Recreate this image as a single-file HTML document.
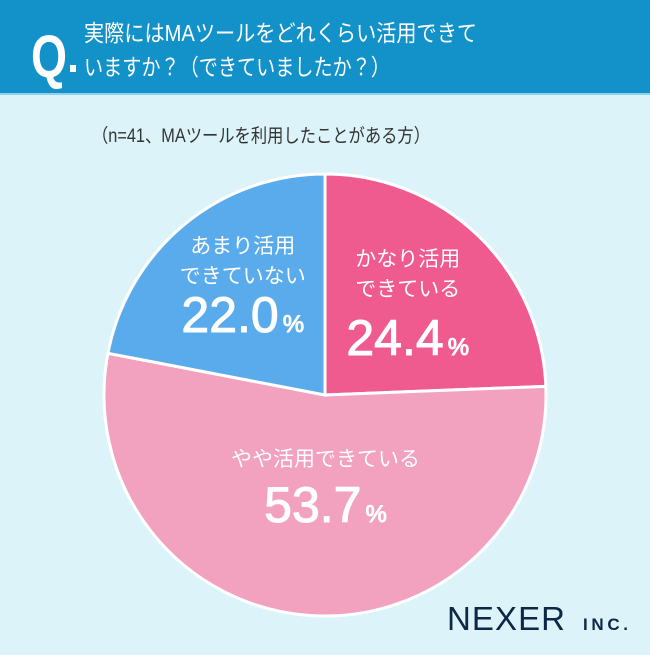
<!DOCTYPE html>
<html><head><meta charset="utf-8">
<style>
html,body{margin:0;padding:0;}
body{width:650px;height:650px;overflow:hidden;background:#dcf4f9;font-family:"Liberation Sans","Noto Sans CJK JP",sans-serif;}
</style></head>
<body>
<svg width="650" height="650" xmlns="http://www.w3.org/2000/svg">
<rect x="0" y="0" width="650" height="650" fill="#dcf4f9"/>
<rect x="0" y="0" width="650" height="93" fill="#1391c9"/>
<rect x="0" y="93" width="650" height="2" fill="#8fd0ea"/>
<text x="31" y="77" font-size="60" font-weight="bold" fill="#fff" textLength="36" lengthAdjust="spacingAndGlyphs" font-family="Liberation Sans, sans-serif">Q</text>
<rect x="70" y="65" width="6" height="7" fill="#fff"/>
<text x="84" y="41" font-size="23" fill="#fff" textLength="393" lengthAdjust="spacingAndGlyphs">実際にはMAツールをどれくらい活用できて</text>
<text x="84" y="75" font-size="23" fill="#fff" textLength="306" lengthAdjust="spacingAndGlyphs">いますか？（できていましたか？）</text>
<text x="92" y="142" font-size="19" fill="#333" textLength="338" lengthAdjust="spacingAndGlyphs">（n=41、MAツールを利用したことがある方）</text>
<g id="pie"></g>
<g id="labels"></g>
<text x="447" y="630" font-size="33" fill="#0d2747" textLength="118" lengthAdjust="spacing" font-family="Liberation Sans, sans-serif">NEXER</text>
<text x="583" y="630" font-size="17" font-weight="bold" fill="#0d2747" textLength="45" lengthAdjust="spacing" font-family="Liberation Sans, sans-serif">INC.</text>
</svg>
<script>
const categories = ["かなり活用できている","やや活用できている","あまり活用できていない"];
const values = [24.4, 53.7, 22.0];
const valueLabels = ["24.4","53.7","22.0"];
const colors = ["#ef5a8f","#f2a1bf","#5aabec"];
const cx=325, cy=395, r=221;
const ns="http://www.w3.org/2000/svg";
const pie=document.getElementById('pie');
const total=values.reduce((a,b)=>a+b,0);
function pt(a,rr){return [cx+rr*Math.sin(a), cy-rr*Math.cos(a)];}
let a0=0;
const mids=[];
values.forEach((v,i)=>{
  const a1=a0+v/total*2*Math.PI;
  const p0=pt(a0,r), p1=pt(a1,r);
  const large=(a1-a0)>Math.PI?1:0;
  const path=document.createElementNS(ns,'path');
  path.setAttribute('d',`M${cx},${cy} L${p0[0]},${p0[1]} A${r},${r} 0 ${large} 1 ${p1[0]},${p1[1]} Z`);
  path.setAttribute('fill',colors[i]);
  path.setAttribute('stroke','#fff');
  path.setAttribute('stroke-width','3');
  
  
  pie.appendChild(path);
  mids.push((a0+a1)/2);
  a0=a1;
});
const labels=document.getElementById('labels');
const rf=[0.54,0.39,0.57];
const dx=[0,7,-2];
const textDy=[-43,-15,-45];
const valDy=[46,41,34];
const lineSplit=[true,false,true];
mids.forEach((m,i)=>{
  const p=pt(m,r*rf[i]);
  const x=p[0]+dx[i];
  const name=categories[i];
  let lines = lineSplit[i] ? [name.slice(0,name.indexOf('用')+1), name.slice(name.indexOf('用')+1)] : [name];
  const first = p[1]+textDy[i];
  lines.forEach((ln,j)=>{
    const t=document.createElementNS(ns,'text');
    t.setAttribute('x',x); t.setAttribute('y',first+j*30);
    t.setAttribute('font-size','21'); t.setAttribute('fill','#fff'); t.setAttribute('text-anchor','middle');
    t.textContent=ln;
    
    
    labels.appendChild(t);
  });
  const t=document.createElementNS(ns,'text');
  t.setAttribute('x',x); t.setAttribute('y',p[1]+valDy[i]);
  t.setAttribute('text-anchor','middle'); t.setAttribute('fill','#fff');
  t.setAttribute('font-family','Liberation Sans, sans-serif');
  t.setAttribute('stroke','#fff'); t.setAttribute('stroke-width','1');
  const s1=document.createElementNS(ns,'tspan'); s1.setAttribute('font-size','50'); s1.textContent=valueLabels[i];
  const s2=document.createElementNS(ns,'tspan'); s2.setAttribute('font-size','24'); s2.setAttribute('dx','4'); s2.textContent='%';
  t.appendChild(s1); t.appendChild(s2);
  
  
  labels.appendChild(t);
});
</script>
</body></html>
